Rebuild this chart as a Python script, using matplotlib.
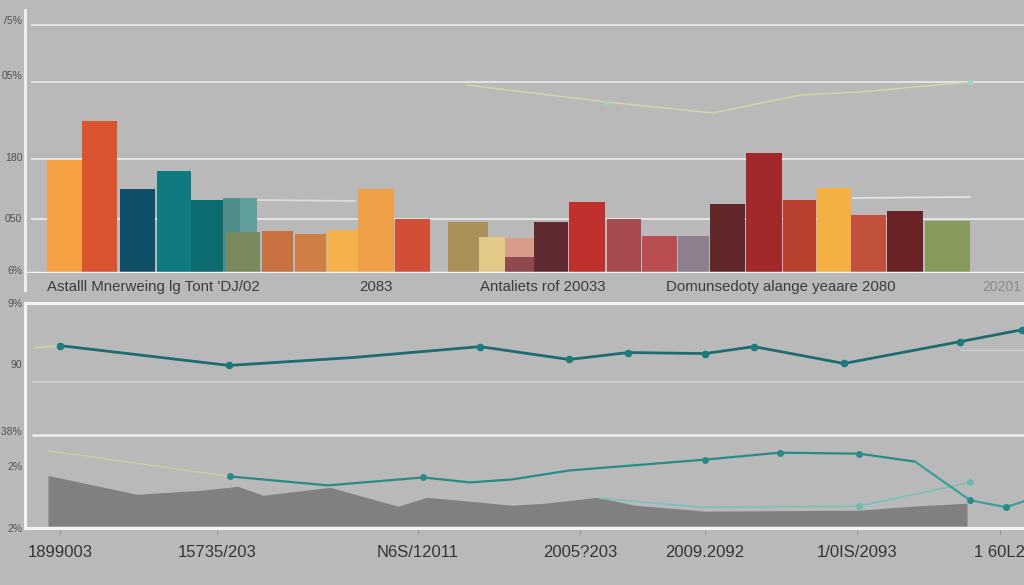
import numpy as np
import matplotlib.pyplot as plt
from matplotlib.colors import to_rgb

plt.rcParams['font.family'] = ['Liberation Sans', 'DejaVu Sans']

# ---- top panel: bars (heights) ----
bar_values = [113, 152, 84, 102, 73, 75, 41, 42, 39, 43, 84, 54, 51, 36,
              35, 16, 51, 71, 54, 37, 37, 69, 120, 73, 85, 58, 62, 52]
bar_colors = ['#f5a043', '#d9542f', '#0f4f67', '#0f7a80', '#0d6c70', '#5f9e9b',
              '#7a8a5f', '#c8703f', '#cf7e46', '#f4b14b', '#f0a048', '#d14f36',
              '#a89058', '#e3c987', '#d99c8a', '#8e4a4f', '#5f2b31', '#c0302d',
              '#a84b51', '#b94d52', '#8e7e8e', '#622729', '#a1292b', '#b94130',
              '#f5b043', '#c1513d', '#6c2325', '#879a5d']
# layout of the bars (left edge, width) in axis units
bar_left = [47, 82, 120, 157, 191, 223, 226, 262, 295, 327, 358, 395, 448, 479,
            505, 505, 534, 569, 607, 642, 678, 710, 746, 783, 817, 851, 887, 925]
bar_width = [35, 35, 35, 34, 33, 34, 34, 31, 31, 31, 36, 35, 40, 26,
             29, 29, 34, 36, 34, 35, 31, 35, 36, 33, 34, 35, 36, 45]

top_line_x = [467, 607, 713, 800, 860, 970]
top_line_y = [188, 171, 160, 178, 181, 191]

top_ticks = [253, 198, 116, 55, 3]
top_ticklabels = ['/5%', '05%', '180', '050', '6%']
top_grid = [248, 191, 114, 54]

group_labels = ["Astalll Mnerweing lg Tont 'DJ/02", '2083', 'Antaliets rof 20033',
                'Domunsedoty alange yeaare 2080', '20201']
group_label_x = [47, 376, 480, 666, 1002]
group_label_ha = ['left', 'center', 'left', 'left', 'center']

# ---- bottom panel: lines and area ----
l1_x = [60, 229, 353, 480, 569, 628, 705, 754, 844, 960, 1022]
l1_y = [182, 162, 170, 181, 168, 175, 174, 181, 164, 186, 198]

l2_x = [230, 328, 423, 470, 512, 569, 705, 780, 859, 915, 970, 1006, 1024]
l2_y = [50, 41, 49, 44, 47, 56, 67, 74, 73, 65, 26, 19, 25]
l2_lead_x = [48, 230]
l2_lead_y = [76, 50]

l3_x = [600, 700, 859, 970]
l3_y = [28, 19, 20, 44]

area_x = [48, 137, 200, 238, 263, 330, 398, 427, 512, 545, 597, 635, 705, 859, 912, 967]
area_y = [51, 32, 36, 40, 31, 39, 20, 29, 21, 23, 29, 21, 15, 16, 20, 23]

bot_ticks = [225, 163, 96, 61, -2]
bot_ticklabels = ['9%', '90', '.38%', '2%', '2%']
bot_grid = [145, 92]

x_labels = ['1899003', '15735/203', 'N6S/12011', '2005?203', '2009.2092', '1/0IS/2093', '1 60L2']
x_label_pos = [60, 217, 418, 580, 705, 857, 1000]

BG = '#b9b9b9'
W, H = 1024, 585
fig = plt.figure(figsize=(W / 100, H / 100), dpi=100, facecolor=BG)


def px_axes(x0, y0, x1, y1):
    return fig.add_axes([x0 / W, 1 - y1 / H, (x1 - x0) / W, (y1 - y0) / H])


# top axes
ax = px_axes(25, 10, 1024, 273)
ax.set_facecolor(BG)
ax.set_xlim(25, 1024)
ax.set_ylim(0, 263)
for g in top_grid:
    ax.axhline(g, xmin=0.007, color='#e4e4e4', lw=1.4, zorder=0)
for v, c, l, w in zip(bar_values, bar_colors, bar_left, bar_width):
    ax.bar(l, v, width=w, align='edge', color=c, edgecolor='none', zorder=2)
# darker half on the pale teal bar, then the bars drawn in front of others
r, g_, b = to_rgb('#5f9e9b')
ax.bar(223, 75, width=17, align='edge', color=(r * 0.85, g_ * 0.9, b * 0.9), zorder=2)
ax.bar(226, 41, width=34, align='edge', color='#7a8a5f', zorder=3)
ax.bar(505, 16, width=29, align='edge', color='#8e4a4f', zorder=3)
ax.plot([258, 355], [73, 72], color='#dedede', lw=1.2, zorder=1)
ax.plot([853, 970], [75, 76], color='#e6e6e6', lw=1.2, zorder=1)
ax.plot(top_line_x, top_line_y, color='#d8d5a6', lw=1.0, zorder=1)
ax.plot([top_line_x[1], top_line_x[-1]], [top_line_y[1], top_line_y[-1]], 'o',
        ms=3, color='#a8cfc4', zorder=1)
ax.axhline(0, color='#f4f4f4', lw=2.5, zorder=4)
ax.set_yticks(top_ticks)
ax.set_yticklabels(top_ticklabels, fontsize=7.5, color='#505050')
ax.tick_params(axis='y', length=0, pad=2)
ax.set_xticks([])
for s in ['top', 'right', 'bottom']:
    ax.spines[s].set_visible(False)
ax.spines['left'].set_color('#f2f2f2')
ax.spines['left'].set_linewidth(2)
ax.spines['left'].set_bounds(-17, 263)
for t, x, ha in zip(group_labels, group_label_x, group_label_ha):
    col = '#8a8a8a' if t == '20201' else '#3c3c3c'
    fs = 10 if t == '20201' else 10.8
    ax.text(x, -14, t, ha=ha, va='center', fontsize=fs, color=col, clip_on=False)

# bottom axes
bx = px_axes(25, 303, 1024, 528)
bx.set_facecolor(BG)
bx.set_xlim(25, 1024)
bx.set_ylim(0, 225)
bx.axhline(bot_grid[0], xmin=0.008, color='#d2d2d2', lw=1.2, zorder=0)
bx.axhline(bot_grid[1], xmin=0.008, color='#ececec', lw=1.8, zorder=0)
bx.fill_between(area_x, area_y, 0, color='#808080', lw=0, zorder=1)
bx.plot([35, 60], [180, 182], color='#d8d49c', lw=1.0, zorder=2)
bx.plot([960, 1024], [178, 178], color='#cfd6d4', lw=0.8, zorder=2)
bx.plot(l1_x, l1_y, color='#1e6c70', lw=2, zorder=3)
bx.plot([x for x in l1_x if x != 353], [y for x, y in zip(l1_x, l1_y) if x != 353],
        'o', ms=4.5, color='#1e7a7c', zorder=4)
bx.plot(l2_lead_x, l2_lead_y, color='#c9cf9c', lw=1.0, zorder=2)
bx.plot(l2_x[:10], l2_y[:10], color='#2a8a88', lw=1.6, zorder=3)
bx.plot(l2_x[9:], l2_y[9:], color='#3aa09c', lw=1.6, zorder=3)
mk = [230, 423, 705, 780, 859, 970, 1006]
bx.plot(mk, [y for x, y in zip(l2_x, l2_y) if x in mk], 'o', ms=4, color='#2a8a88', zorder=4)
bx.plot(l3_x, l3_y, color='#7cc0b8', lw=1.2, zorder=2)
bx.plot(l3_x[2:], l3_y[2:], 'o', ms=4, color='#6cb8ae', zorder=4)
bx.set_yticks(bot_ticks)
bx.set_yticklabels(bot_ticklabels, fontsize=7.5, color='#505050')
bx.tick_params(axis='y', length=0, pad=2)
bx.set_xticks(x_label_pos)
bx.set_xticklabels(x_labels, fontsize=12, color='#353535')
bx.tick_params(axis='x', length=4, width=0.6, color='#8c8c8c', pad=8, direction='out')
bx.spines['right'].set_visible(False)
for s in ['left', 'top', 'bottom']:
    bx.spines[s].set_color('#f4f4f4')
    bx.spines[s].set_linewidth(2.2)

fig.savefig('out.png', dpi=100, facecolor=BG)
